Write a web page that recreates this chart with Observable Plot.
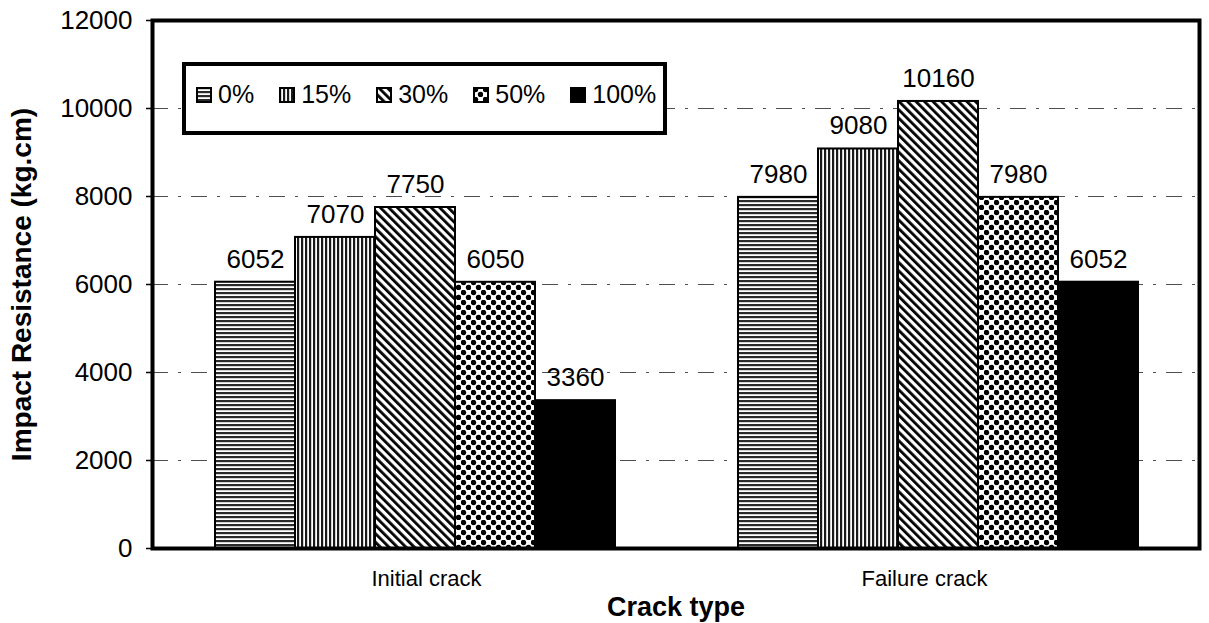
<!DOCTYPE html>
<html>
<head>
<meta charset="utf-8">
<script src="https://cdn.jsdelivr.net/npm/d3@7"></script>
<script src="https://cdn.jsdelivr.net/npm/@observablehq/plot@0.6"></script>
<style>
  body { margin: 0; background: #fff; }
  #wrap { position: relative; width: 1209px; height: 623px; font-family: "Liberation Sans", Arial, Helvetica, sans-serif; }
  #wrap > svg { position: absolute; left: 0; top: 0; }
  #legend {
    position: absolute; left: 182px; top: 62px; width: 467px; height: 57px;
    border: 4px solid #000; background: #fff; display: flex; align-items: center;
    box-sizing: content-box; padding-left: 10px; padding-bottom: 8px; font-size: 25px; color: #000;
  }
  #legend .item { display: flex; align-items: center; margin-right: 25px; }
  #legend .item svg { margin-right: 6px; }
</style>
</head>
<body>
<div id="wrap"></div>
<script>
// ---- data ----
const crackTypes = ["Initial crack", "Failure crack"];
const percents = ["0%", "15%", "30%", "50%", "100%"];
const initialCrack = [6052, 7070, 7750, 6050, 3360];
const failureCrack = [7980, 9080, 10160, 7980, 6052];
const yTicks = [0, 2000, 4000, 6000, 8000, 10000, 12000];
const gridTicks = [2000, 4000, 6000, 8000, 10000];
const fills = ["url(#pat0)", "url(#pat15)", "url(#pat30)", "url(#pat50)", "#000"];

const rows = [];
crackTypes.forEach((c, i) => {
  const vals = i === 0 ? initialCrack : failureCrack;
  percents.forEach((p, j) => rows.push({crack: c, pct: p, value: vals[j]}));
});

const W = 1209, H = 623;
const M = {marginLeft: 152, marginRight: 10, marginTop: 20, marginBottom: 75};
const font = "'Liberation Sans', Arial, Helvetica, sans-serif";
const wrap = document.getElementById("wrap");

// layer 1: grid
const grid = Plot.plot({
  width: W, height: H, ...M,
  style: {fontFamily: font, background: "transparent"},
  y: {domain: [0, 12000], axis: null},
  marks: [
    Plot.gridY(gridTicks, {stroke: "#222", strokeOpacity: 0.8, strokeWidth: 1.2, strokeDasharray: "16,10,3,10"})
  ]
});
wrap.appendChild(grid);

// layer 2: bars + value labels
const fore = Plot.plot({
  width: W, height: H, ...M,
  style: {fontFamily: font, background: "transparent", color: "#000"},
  fx: {domain: crackTypes, padding: 0, axis: null},
  x: {domain: percents, paddingInner: 0, paddingOuter: 0.73, axis: null},
  y: {domain: [0, 12000], axis: null},
  color: {domain: percents, range: fills},
  marks: [
    Plot.barY(rows, {fx: "crack", x: "pct", y: "value", fill: "pct", stroke: "#000", strokeWidth: 2}),
    Plot.text(rows, {fx: "crack", x: "pct", y: "value", text: d => String(d.value), dy: -23, fontSize: 26, fill: "#000"})
  ]
});
const defs = d3.select(fore).insert("defs", ":first-child");
// 0%: horizontal lines
let p = defs.append("pattern").attr("id", "pat0").attr("patternUnits", "userSpaceOnUse").attr("width", 4).attr("height", 4);
p.append("rect").attr("width", 4).attr("height", 4).attr("fill", "#fff");
p.append("rect").attr("width", 4).attr("height", 2.2).attr("fill", "#2a2a2a");
// 15%: vertical lines
p = defs.append("pattern").attr("id", "pat15").attr("patternUnits", "userSpaceOnUse").attr("width", 4).attr("height", 4);
p.append("rect").attr("width", 4).attr("height", 4).attr("fill", "#fff");
p.append("rect").attr("width", 2.2).attr("height", 4).attr("fill", "#1a1a1a");
// 30%: diagonal lines
p = defs.append("pattern").attr("id", "pat30").attr("patternUnits", "userSpaceOnUse").attr("width", 6).attr("height", 6).attr("patternTransform", "rotate(-45)");
p.append("rect").attr("width", 6).attr("height", 6).attr("fill", "#fff");
p.append("rect").attr("width", 2.8).attr("height", 6).attr("fill", "#000");
// 50%: checker dots
p = defs.append("pattern").attr("id", "pat50").attr("patternUnits", "userSpaceOnUse").attr("width", 10).attr("height", 10);
p.append("rect").attr("width", 10).attr("height", 10).attr("fill", "#fff");
p.append("circle").attr("cx", 2.5).attr("cy", 2.5).attr("r", 2.7).attr("fill", "#000");
p.append("circle").attr("cx", 7.5).attr("cy", 7.5).attr("r", 2.7).attr("fill", "#000");
wrap.appendChild(fore);

// layer 3: axes, frame, titles
const axes = Plot.plot({
  width: W, height: H, ...M,
  style: {fontFamily: font, background: "transparent", color: "#000"},
  x: {type: "band", domain: crackTypes},
  y: {domain: [0, 12000]},
  marks: [
    Plot.axisY(yTicks, {tickSize: 6, tickPadding: 14, fontSize: 26, label: null, strokeWidth: 1.5, tickFormat: d => String(d)}),
    Plot.axisX({tickSize: 0, tickPadding: 22, fontSize: 22, label: null}),
    Plot.frame({stroke: "#000", strokeWidth: 4}),
    Plot.text(["Impact Resistance (kg.cm)"], {text: d => d, frameAnchor: "left", textAnchor: "middle", lineAnchor: "middle", dx: -130, rotate: -90, fontSize: 28, fontWeight: "bold"}),
    Plot.text(["Crack type"], {text: d => d, frameAnchor: "bottom", textAnchor: "middle", lineAnchor: "middle", dy: 59, fontSize: 27, fontWeight: "bold"})
  ]
});
wrap.appendChild(axes);

// legend
const legend = document.createElement("div");
legend.id = "legend";
percents.forEach((pct, i) => {
  const item = document.createElement("div");
  item.className = "item";
  const sw = d3.create("svg").attr("width", 16).attr("height", 16);
  sw.append("rect").attr("x", 1).attr("y", 1).attr("width", 14).attr("height", 14)
    .attr("fill", fills[i]).attr("stroke", "#000").attr("stroke-width", 2);
  item.appendChild(sw.node());
  const t = document.createElement("span");
  t.textContent = pct;
  item.appendChild(t);
  legend.appendChild(item);
});
wrap.appendChild(legend);
</script>
</body>
</html>
